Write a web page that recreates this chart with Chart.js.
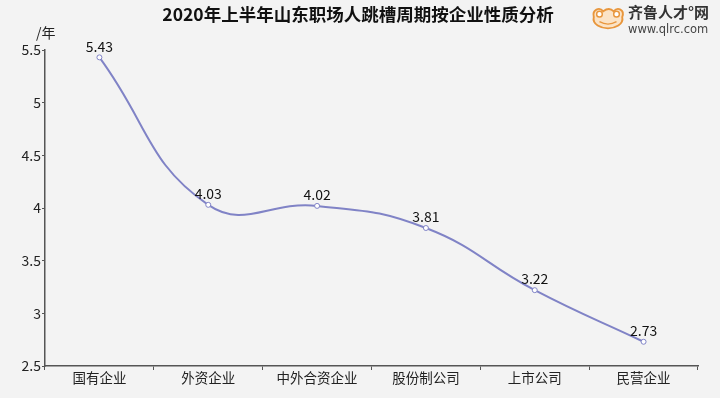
<!DOCTYPE html>
<html>
<head>
<meta charset="utf-8">
<script src="https://cdn.jsdelivr.net/npm/chart.js@4/dist/chart.umd.min.js"></script>
<style>
  html, body { margin: 0; padding: 0; background: #f3f3f3; }
  #wrap { position: relative; width: 720px; height: 398px; font-family: "Noto Sans CJK SC", sans-serif; }
  #title { position: absolute; left: 0; width: 716px; top: 1px; text-align: center; font-size: 17.5px; font-weight: bold; color: #111; }
  #unit { position: absolute; left: 36px; top: 22px; font-size: 14px; color: #222; }
  #logo { position: absolute; left: 590px; top: 3px; width: 130px; height: 34px; }
  #logo .cn { position: absolute; left: 38px; top: -2px; font-size: 15px; font-weight: bold; color: #333; }
  #logo .url { position: absolute; left: 38px; top: 19px; font-size: 11.5px; color: #444; font-family: "DejaVu Sans", sans-serif; }
  canvas { position: absolute; left: 0; top: 0; }
</style>
</head>
<body>
<div id="wrap">
  <canvas id="chart" width="720" height="398"></canvas>
  <div id="title">2020年上半年山东职场人跳槽周期按企业性质分析</div>
  <div id="unit">/年</div>
  <div id="logo">
    <svg width="36" height="28" viewBox="0 0 38 28">
      <path d="M4 14 C2 6 10 3 14 8 C18 5 22 5 25 8 C29 3 37 6 34 14 C36 22 26 26 19 26 C12 26 2 22 4 14 Z" fill="#fbe3c6" stroke="#e8963c" stroke-width="2"/>
      <circle cx="10" cy="11" r="3" fill="#fff" stroke="#e8963c" stroke-width="1.5"/>
      <circle cx="28" cy="11" r="3" fill="#fff" stroke="#e8963c" stroke-width="1.5"/>
      <path d="M10 19 Q19 24 28 19" fill="none" stroke="#e8963c" stroke-width="1.5"/>
    </svg>
    <span class="cn">齐鲁人才°网</span>
    <span class="url">www.qlrc.com</span>
  </div>
</div>
<script>
const categories = ["国有企业", "外资企业", "中外合资企业", "股份制公司", "上市公司", "民营企业"];
const years = [5.43, 4.03, 4.02, 3.81, 3.22, 2.73];
const yTicks = [2.5, 3, 3.5, 4, 4.5, 5, 5.5];

const lineColor = "#8083c6";
const axisColor = "#555";
const fontFamily = "'Noto Sans CJK SC', sans-serif";

// value labels above each point
const valueLabels = {
  id: "valueLabels",
  afterDatasetsDraw(chart) {
    const ctx = chart.ctx;
    const meta = chart.getDatasetMeta(0);
    ctx.save();
    ctx.font = "14px " + fontFamily;
    ctx.fillStyle = "#111";
    ctx.textAlign = "center";
    ctx.textBaseline = "bottom";
    meta.data.forEach((pt, i) => {
      ctx.fillText(years[i].toFixed(2), pt.x, pt.y - 4);
    });
    ctx.restore();
  }
};

new Chart(document.getElementById("chart"), {
  type: "line",
  data: {
    labels: categories,
    datasets: [{
      data: years,
      borderColor: lineColor,
      borderWidth: 2,
      tension: 0.45,
      pointRadius: 2.5,
      pointBackgroundColor: "#fff",
      pointBorderColor: lineColor,
      pointBorderWidth: 1,
      fill: false
    }]
  },
  options: {
    responsive: false,
    animation: false,
    layout: { padding: { top: 50, right: 22, left: 0, bottom: 0 } },
    plugins: { legend: { display: false }, tooltip: { enabled: false } },
    scales: {
      x: {
        offset: true,
        grid: { offset: true, drawOnChartArea: false, drawTicks: true, tickLength: 4, color: axisColor },
        border: { color: axisColor, width: 1.5 },
        ticks: { color: "#222", font: { family: fontFamily, size: 13.5 }, padding: 0, maxRotation: 0 },
        afterFit(scale) { scale.height = 32; }
      },
      y: {
        min: 2.5,
        max: 5.5,
        afterBuildTicks(scale) { scale.ticks = yTicks.map(v => ({ value: v })); },
        grid: { drawOnChartArea: false, drawTicks: true, tickLength: 3, color: axisColor },
        border: { color: axisColor, width: 1.5 },
        ticks: { color: "#222", font: { family: fontFamily, size: 14 }, padding: 1, callback: v => String(v) },
        afterFit(scale) { scale.width = 45; }
      }
    }
  },
  plugins: [valueLabels]
});
</script>
</body>
</html>
